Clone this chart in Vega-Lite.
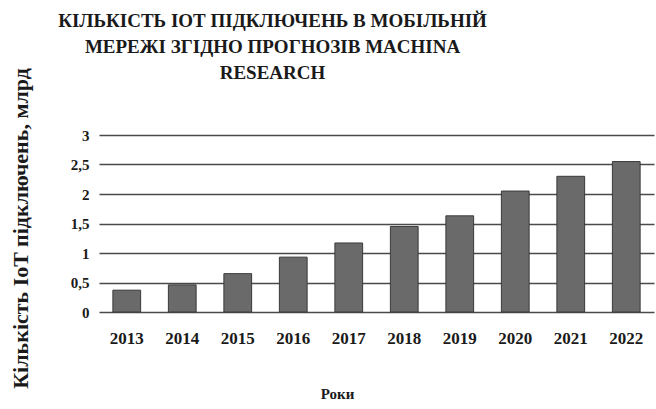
{
  "$schema": "https://vega.github.io/schema/vega-lite/v6.json",
  "autosize": {"type": "none"},
  "padding": {"left": 99, "top": 135, "right": 2, "bottom": 97},
  "width": 555,
  "height": 177,
  "background": "white",
  "title": {
    "text": ["КІЛЬКІСТЬ ІОТ ПІДКЛЮЧЕНЬ В МОБІЛЬНІЙ", "МЕРЕЖІ ЗГІДНО ПРОГНОЗІВ MACHINA", "RESEARCH"],
    "font": "Liberation Serif",
    "fontSize": 19,
    "fontWeight": "bold",
    "color": "#1a1a1a",
    "anchor": "middle",
    "dx": -104,
    "dy": 18,
    "offset": 2,
    "lineHeight": 26
  },
  "data": {
    "values": [
      {"year": "2013", "value": 0.37},
      {"year": "2014", "value": 0.46},
      {"year": "2015", "value": 0.65},
      {"year": "2016", "value": 0.93},
      {"year": "2017", "value": 1.17},
      {"year": "2018", "value": 1.45},
      {"year": "2019", "value": 1.63},
      {"year": "2020", "value": 2.05},
      {"year": "2021", "value": 2.3},
      {"year": "2022", "value": 2.55}
    ]
  },
  "mark": {"type": "bar", "color": "#6a6a6a", "stroke": "#3a3a3a", "strokeWidth": 1},
  "encoding": {
    "x": {
      "field": "year",
      "type": "ordinal",
      "scale": {"paddingInner": 0.5, "paddingOuter": 0.25},
      "axis": {
        "title": "Роки",
        "titleFont": "Liberation Serif",
        "titleFontSize": 15,
        "titleFontWeight": "bold",
        "titleColor": "#1a1a1a",
        "titlePadding": 40,
        "titleX": 238,
        "labelFont": "Liberation Serif",
        "labelFontSize": 17,
        "labelFontWeight": "bold",
        "labelColor": "#1a1a1a",
        "labelAngle": 0,
        "labelPadding": 18,
        "ticks": false,
        "domain": false
      }
    },
    "y": {
      "field": "value",
      "type": "quantitative",
      "scale": {"domain": [0, 3]},
      "axis": {
        "title": "Кількість IoT підключень, млрд",
        "titleFont": "Liberation Serif",
        "titleFontSize": 22,
        "titleFontWeight": "bold",
        "titleColor": "#1a1a1a",
        "titlePadding": 38,
        "titleY": 93,
        "values": [0, 0.5, 1, 1.5, 2, 2.5, 3],
        "labelExpr": "replace(format(datum.value, '~g'), '.', ',')",
        "labelFont": "Liberation Serif",
        "labelFontSize": 15,
        "labelFontWeight": "bold",
        "labelColor": "#1a1a1a",
        "labelPadding": 10,
        "ticks": false,
        "domain": false,
        "grid": true,
        "gridColor": "#4a4a4a",
        "gridWidth": 1.3
      }
    }
  },
  "config": {"view": {"stroke": null}}
}
